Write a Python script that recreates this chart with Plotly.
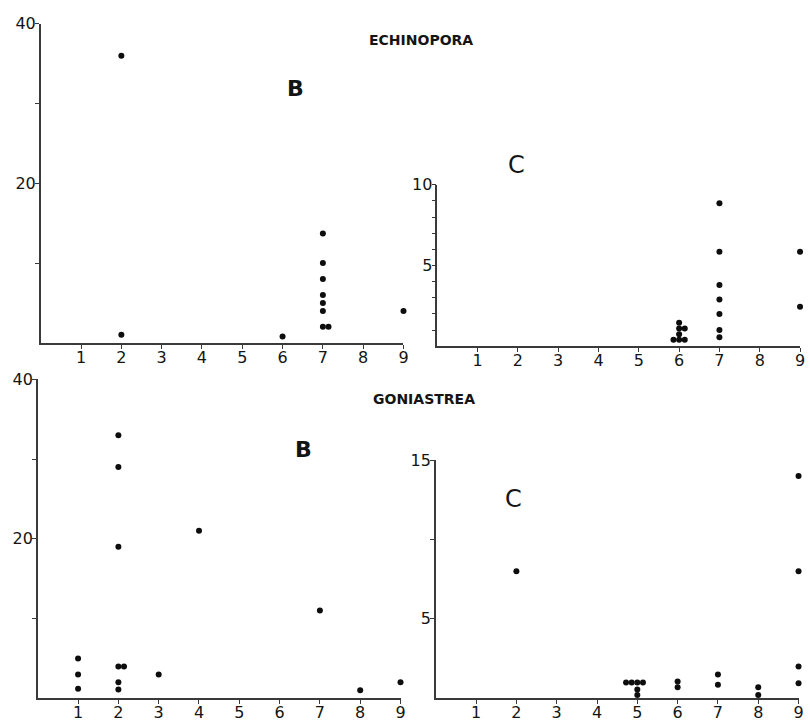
import plotly.graph_objects as go

# ---- data: site number (x) and value (y) for each panel ----
ech_b_site = [2, 2, 6, 7, 7, 7, 7, 7, 7, 7, 7, 9]
ech_b_val = [36, 1, 0.8, 13.7, 10, 8, 6, 5, 4, 2, 2, 4]

ech_c_site = [6, 6, 6, 6, 6, 6, 6, 7, 7, 7, 7, 7, 7, 7, 9, 9]
ech_c_val = [1.45, 1.1, 1.1, 0.75, 0.4, 0.4, 0.4,
             8.85, 5.85, 3.8, 2.9, 2, 1, 0.55, 5.85, 2.45]

gon_b_site = [1, 1, 1, 2, 2, 2, 2, 2, 2, 2, 3, 4, 7, 8, 9]
gon_b_val = [5, 3, 1.2, 33, 29, 19, 4, 4, 2, 1.1, 3, 21, 11, 1, 2]

gon_c_site = [2, 5, 5, 5, 5, 5, 5, 6, 6, 7, 7, 8, 8, 9, 9, 9, 9, 9]
gon_c_val = [8, 1, 1, 1, 1, 0.55, 0.2, 1.05, 0.7, 1.5, 0.85,
             0.7, 0.2, 14, 8, 2, 2, 0.95]

site_ticks = [1, 2, 3, 4, 5, 6, 7, 8, 9]
W, H = 810, 722
FONT = "DejaVu Sans"
INK = "#141414"


def spread(sites, vals, step=0.14):
    """Place coincident points side by side so each one stays visible."""
    groups = {}
    for i, key in enumerate(zip(sites, vals)):
        groups.setdefault(key, []).append(i)
    xs = [float(s) for s in sites]
    for key, idx in groups.items():
        n = len(idx)
        if n == 1:
            continue
        start = -(n // 2) if (n % 2 == 0 and n > 2) else -((n - 1) // 2)
        for k, i in enumerate(idx):
            xs[i] = sites[i] + (start + k) * step
    return xs


# panel frames in pixels: (x at 0, x at 9, y-pixel at 0, y-pixel at top value)
panels = [
    dict(sites=ech_b_site, vals=ech_b_val, px=(41, 406), py=(338, 15), ymax=40,
         yticks=[10, 20, 30, 40], ytext=["", "20", "", "40"]),
    dict(sites=ech_c_site, vals=ech_c_val, px=(440, 805), py=(341.5, 178), ymax=10,
         yticks=list(range(1, 11)), ytext=["", "", "", "", "5", "", "", "", "", "10"]),
    dict(sites=gon_b_site, vals=gon_b_val, px=(38, 403), py=(698, 375), ymax=40,
         yticks=[10, 20, 30, 40], ytext=["", "20", "", "40"]),
    dict(sites=gon_c_site, vals=gon_c_val, px=(438.5, 803.5), py=(698, 456.7), ymax=15,
         yticks=[5, 10, 15], ytext=["5", "", "15"]),
]

fig = go.Figure()
layout = dict(
    width=W, height=H,
    margin=dict(l=0, r=0, t=0, b=0),
    paper_bgcolor="white", plot_bgcolor="white",
    showlegend=False,
    font=dict(family=FONT, color=INK),
)

for n, p in enumerate(panels, start=1):
    sfx = "" if n == 1 else str(n)
    fig.add_trace(go.Scatter(
        x=spread(p["sites"], p["vals"]), y=p["vals"],
        mode="markers", cliponaxis=False,
        marker=dict(size=6, color="#0d0d0d"),
        xaxis="x" + sfx, yaxis="y" + sfx,
    ))
    x0, x9 = p["px"]
    y0, yt = p["py"]
    axis_common = dict(showgrid=False, zeroline=False, showline=True,
                       linecolor="#3a3a3a", linewidth=1.5, ticks="outside",
                       tickcolor="#3a3a3a", tickwidth=1.2, ticklen=4,
                       tickfont=dict(family=FONT, size=16, color=INK),
                       fixedrange=True)
    layout["xaxis" + sfx] = dict(
        axis_common, domain=[x0 / W, x9 / W], range=[0, 9],
        tickvals=site_ticks, anchor="y" + sfx, ticklabelstandoff=-5,
    )
    layout["yaxis" + sfx] = dict(
        axis_common, domain=[1 - y0 / H, 1 - yt / H], range=[0, p["ymax"]],
        tickvals=p["yticks"], ticktext=p["ytext"], anchor="x" + sfx,
        ticklabelstandoff=-4,
    )

labels = [
    ("<b>ECHINOPORA</b>", 424, 31, 14), ("<b>GONIASTREA</b>", 427, 395, 14),
    ("<b>B</b>", 297, 80, 22), ("C", 520, 158, 24),
    ("<b>B</b>", 305, 446, 22), ("C", 517, 496, 24),
]
annotations = []
for text, x, y, size in labels:
    annotations.append(dict(
        text=text, x=x / W, y=1 - y / H, xref="paper", yref="paper",
        showarrow=False, xanchor="center", yanchor="middle",
        font=dict(family=FONT, size=size, color=INK),
    ))
layout["annotations"] = annotations

fig.update_layout(**layout)
fig.write_html("out.html")
